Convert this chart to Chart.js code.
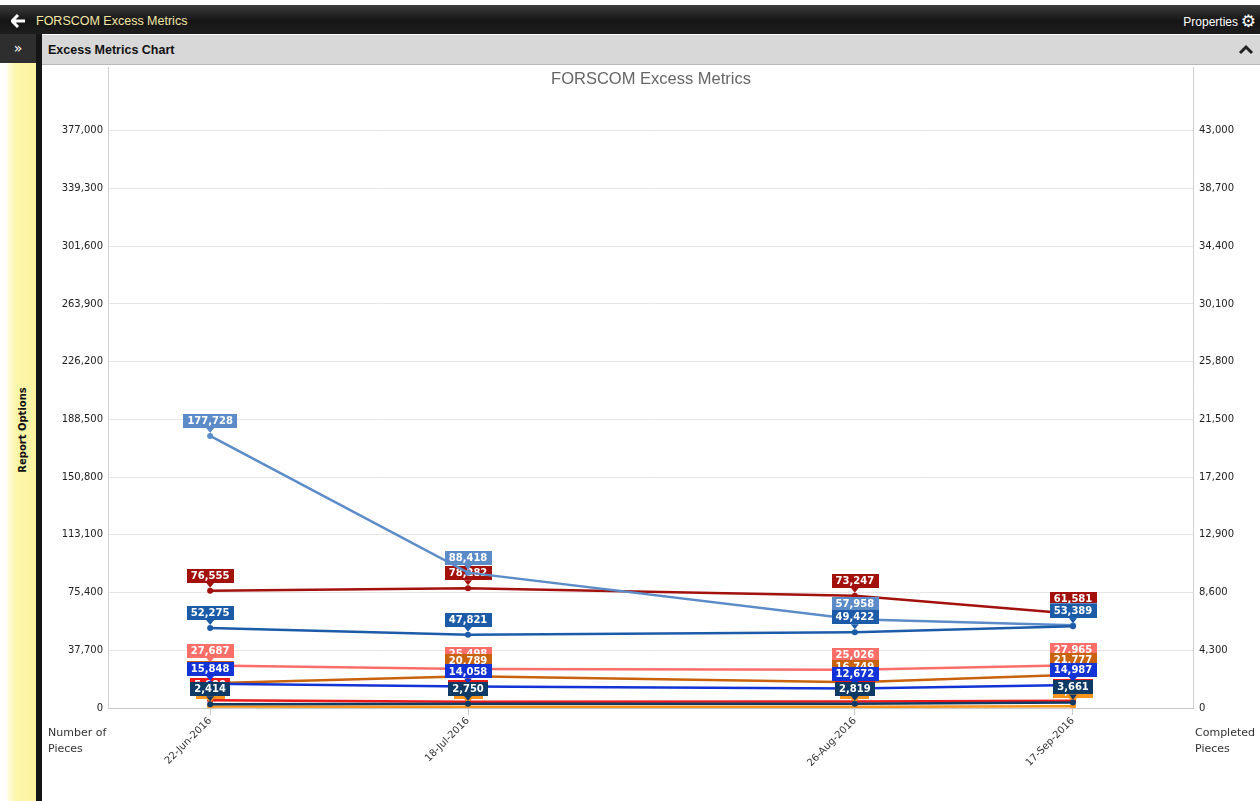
<!DOCTYPE html>
<html>
<head>
<meta charset="utf-8">
<title>FORSCOM Excess Metrics</title>
<script src="https://cdn.jsdelivr.net/npm/chart.js@4.4.1/dist/chart.umd.min.js"></script>
<style>
  body { margin: 0; width: 1260px; height: 801px; overflow: hidden; background: #fff; position: relative;
         font-family: "Liberation Sans", Arial, sans-serif; }
  #topbar { position: absolute; left: 0; top: 5px; width: 1260px; height: 29px;
            background: linear-gradient(#3c3c3c, #151515 55%, #1e1e1e); }
  #topbar .back { position: absolute; left: 11px; top: 9px; }
  #topbar .name { position: absolute; left: 36px; top: 9px; color: #f4e7a6; font-size: 12.5px; }
  #topbar .props { position: absolute; right: 22px; top: 10px; color: #fff; font-size: 12px; }
  #topbar .gear { position: absolute; right: 4px; top: 6px; color: #fff; font-size: 17px; font-family: "DejaVu Sans"; }
  #sidehead { position: absolute; left: 0; top: 34px; width: 36px; height: 29px; background: #2e2e2e;
              color: #fff; font-size: 14px; text-align: center; line-height: 29px; font-family: "DejaVu Sans"; }
  #sidepanel { position: absolute; left: 7px; top: 63px; width: 29px; height: 738px;
               background: linear-gradient(to right, #fffde6, #fdf6a9 30%, #fcf3a0); }
  #sidepanel span { position: absolute; left: 15px; top: 367px; transform: translate(-50%, -50%) rotate(-90deg);
                    white-space: nowrap; font-family: "DejaVu Sans"; font-weight: bold; font-size: 10px; color: #111; }
  #divider { position: absolute; left: 36px; top: 34px; width: 6px; height: 767px; background: #151515; }
  #panelhead { position: absolute; left: 42px; top: 35px; width: 1218px; height: 29px; background: #d8d8d8;
               border-bottom: 1px solid #b9b9b9; }
  #panelhead .ttl { position: absolute; left: 6px; top: 8px; font-weight: bold; font-size: 12.5px; color: #111; }
  #panelhead svg { position: absolute; right: 6px; top: 9px; }
  #chartbox { position: absolute; left: 42px; top: 67px; width: 1218px; height: 734px; }
</style>
</head>
<body>
<div id="topbar">
  <svg class="back" width="15" height="14" viewBox="0 0 15 14">
    <path d="M7 1 L1 7 L7 13 M1.5 7 L14 7" stroke="#fff" stroke-width="3" fill="none" stroke-linejoin="miter"/>
  </svg>
  <span class="name">FORSCOM Excess Metrics</span>
  <span class="props">Properties</span>
  <span class="gear">⚙</span>
</div>
<div id="sidehead">»</div>
<div id="sidepanel"><span>Report Options</span></div>
<div id="divider"></div>
<div id="panelhead">
  <span class="ttl">Excess Metrics Chart</span>
  <svg width="16" height="11" viewBox="0 0 16 11"><path d="M2 9 L8 3 L14 9" stroke="#222" stroke-width="3" fill="none"/></svg>
</div>
<div id="chartbox"><canvas id="excessChart" width="1218" height="734"></canvas></div>

<script>
// report dates
const dateLabels = ['22-Jun-2016', '18-Jul-2016', '26-Aug-2016', '17-Sep-2016'];
const dateValues = ['2016-06-22', '2016-07-18', '2016-08-26', '2016-09-17'];

// number of pieces per series (hidden labels estimated)
const navyPieces        = [2414, 2750, 2819, 3661];
const bluePieces        = [15848, 14058, 12672, 14987];
const lightOrangePieces = [900, 800, 750, 1200];
const redPieces         = [5000, 4100, 4300, 4800];
const orangePieces      = [16200, 20789, 16749, 21777];
const salmonPieces      = [27687, 25498, 25026, 27965];
const midBluePieces     = [52275, 47821, 49422, 53389];
const lightBluePieces   = [177728, 88418, 57958, 54000];
const darkRedPieces     = [76555, 78282, 73247, 61581];

// axis tick setup
const leftMax = 377000, leftStep = 37700;
const rightMax = 43000, rightStep = 4300;

const dayMs = 86400000;
const dayOffsets = dateValues.map(d => (Date.parse(d) - Date.parse(dateValues[0])) / dayMs);
const toPoints = arr => arr.map((v, i) => ({ x: dayOffsets[i], y: v }));

// first dataset ends up on top
const seriesList = [
    { data: navyPieces,        color: '#0f3a66' },
    { data: bluePieces,        color: '#1233d6' },
    { data: lightOrangePieces, color: '#f7941d' },
    { data: redPieces,         color: '#ea1a1a' },
    { data: orangePieces,      color: '#c8620c' },
    { data: salmonPieces,      color: '#fb6f68' },
    { data: midBluePieces,     color: '#1c5ba8' },
    { data: lightBluePieces,   color: '#5c8cc8' },
    { data: darkRedPieces,     color: '#a3110d' }
];

const fmt = v => Number(v).toLocaleString('en-US');
const FONT = '"DejaVu Sans", Verdana, sans-serif';

// boxed value labels with a little pointer, drawn right after each line
const valueLabels = {
    id: 'valueLabels',
    afterDatasetDraw(chart, args) {
        const ctx = chart.ctx;
        const ds = chart.data.datasets[args.index];
        ctx.save();
        ctx.font = 'bold 10px ' + FONT;
        ctx.textAlign = 'center';
        ctx.textBaseline = 'middle';
        args.meta.data.forEach((pt, i) => {
            const txt = fmt(ds.data[i].y);
            const w = ctx.measureText(txt).width + 8;
            const h = 14;
            const bottom = pt.y - 8;
            ctx.fillStyle = ds.borderColor;
            ctx.fillRect(Math.round(pt.x - w / 2), Math.round(bottom - h), Math.round(w), h);
            ctx.beginPath();
            ctx.moveTo(pt.x - 4, bottom);
            ctx.lineTo(pt.x + 4, bottom);
            ctx.lineTo(pt.x, bottom + 5);
            ctx.closePath();
            ctx.fill();
            ctx.fillStyle = '#fff';
            ctx.fillText(txt, pt.x, bottom - h / 2 + 0.5);
        });
        ctx.restore();
    }
};

// side borders of the plot and the two axis titles under the axis
const frameAndTitles = {
    id: 'frameAndTitles',
    afterDraw(chart) {
        const { ctx, chartArea } = chart;
        ctx.save();
        ctx.strokeStyle = '#d0d0d0';
        ctx.lineWidth = 1;
        [chartArea.left, chartArea.right].forEach(x => {
            ctx.beginPath();
            ctx.moveTo(Math.round(x) + 0.5, 0);
            ctx.lineTo(Math.round(x) + 0.5, chartArea.bottom);
            ctx.stroke();
        });
        ctx.fillStyle = '#333';
        ctx.font = '11px ' + FONT;
        ctx.textBaseline = 'middle';
        ctx.textAlign = 'left';
        ctx.fillText('Number of', 6, chartArea.bottom + 25);
        ctx.fillText('Pieces', 6, chartArea.bottom + 41);
        ctx.fillText('Completed', chartArea.right + 2, chartArea.bottom + 25);
        ctx.fillText('Pieces', chartArea.right + 2, chartArea.bottom + 41);
        ctx.restore();
    }
};

new Chart(document.getElementById('excessChart'), {
    type: 'line',
    data: {
        datasets: seriesList.map(s => ({
            data: toPoints(s.data),
            borderColor: s.color,
            backgroundColor: s.color,
            borderWidth: 2.5,
            pointRadius: 3,
            pointBorderWidth: 0,
            tension: 0,
            fill: false
        }))
    },
    options: {
        responsive: false,
        animation: false,
        layout: { padding: 0 },
        plugins: {
            legend: { display: false },
            tooltip: { enabled: false },
            title: {
                display: true,
                text: 'FORSCOM Excess Metrics',
                color: '#666',
                font: { family: '"Liberation Sans", Arial, sans-serif', size: 16.5, weight: 'normal' },
                padding: { top: 3, bottom: 41 }
            }
        },
        scales: {
            x: {
                type: 'linear',
                min: -10.3,
                max: 99.1,
                afterBuildTicks: scale => { scale.ticks = dayOffsets.map(v => ({ value: v })); },
                afterFit: scale => { scale.height = 93; },
                ticks: {
                    color: '#333',
                    font: { family: FONT, size: 10 },
                    minRotation: 45,
                    maxRotation: 45,
                    padding: 0,
                    callback: (v, i) => dateLabels[i]
                },
                grid: { drawOnChartArea: false, color: '#c8c8c8', tickLength: 7 },
                border: { color: '#c8c8c8' }
            },
            y: {
                position: 'left',
                min: 0,
                max: leftMax,
                afterFit: scale => { scale.width = 66; },
                ticks: { stepSize: leftStep, color: '#222', font: { family: FONT, size: 10 }, padding: 5, callback: fmt },
                grid: { color: '#e6e6e6', drawTicks: false },
                border: { display: false }
            },
            y1: {
                position: 'right',
                min: 0,
                max: rightMax,
                afterFit: scale => { scale.width = 67; },
                ticks: { stepSize: rightStep, color: '#222', font: { family: FONT, size: 10 }, padding: 6, callback: fmt },
                grid: { drawOnChartArea: false, drawTicks: false },
                border: { display: false }
            }
        }
    },
    plugins: [valueLabels, frameAndTitles]
});
</script>
</body>
</html>
